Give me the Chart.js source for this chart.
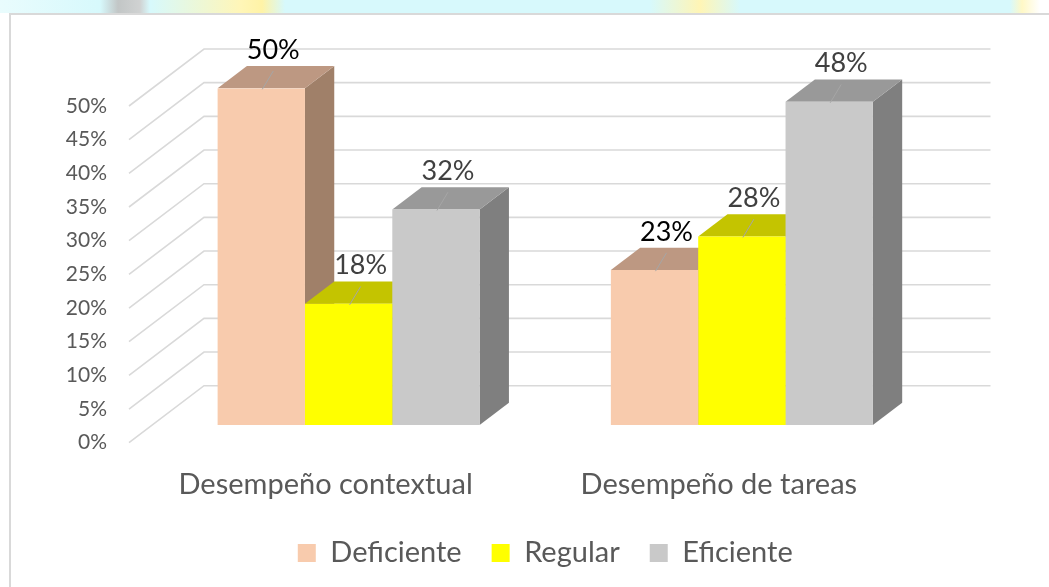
<!DOCTYPE html>
<html>
<head>
<meta charset="utf-8">
<script src="https://cdn.jsdelivr.net/npm/chart.js@4.4.1/dist/chart.umd.min.js"></script>
<style>
  html, body { margin: 0; padding: 0; background: #ffffff; }
  #strip {
    position: absolute; left: 0; top: 0; width: 1049px; height: 13px;
    background: linear-gradient(90deg, #e9fcfd 0px, #d7f9fc 100px, #c2c6c6 118px, #d0d2d2 140px,
      #d7f9fc 150px, #fff6b8 240px, #fff3a6 262px, #d7f9fc 285px, #d7f9fc 650px, #fff5b5 700px,
      #d7f9fc 740px, #d7f9fc 1010px, #fff8c6 1022px, #ffffff 1040px);
  }
  #frame {
    position: absolute; left: 9px; top: 13px; width: 1040px; height: 574px;
    border-left: 2px solid #d9d9d9; border-top: 2px solid #d9d9d9; box-sizing: border-box;
  }
  #chart { position: absolute; left: 0; top: 0; }
</style>
</head>
<body>
<div id="strip"></div>
<div id="frame"></div>
<canvas id="chart" width="1049" height="587"></canvas>
<script>
const categories = ['Desempeño contextual', 'Desempeño de tareas'];
const seriesNames = ['Deficiente', 'Regular', 'Eficiente'];
const deficiente = [50, 23];
const regular = [18, 28];
const eficiente = [32, 48];
const yMax = 50;
const yStep = 5;

// offsets of the fake 3d box (front of bars is the chart area)
const DEPTH = { dx: 29.3, dy: -22.3 };
const WALL = { dx: 52, dy: -39.3 };
const FRONT = { dx: -23, dy: 17.7 };
const FONT = 'Lato';

function poly(ctx, pts) {
  ctx.beginPath();
  ctx.moveTo(pts[0][0], pts[0][1]);
  for (let i = 1; i < pts.length; i++) ctx.lineTo(pts[i][0], pts[i][1]);
  ctx.closePath();
  ctx.fill();
}

const box3d = {
  id: 'box3d',
  beforeDatasetsDraw(chart) {
    const ctx = chart.ctx;
    const y = chart.scales.y;
    const area = chart.chartArea;
    ctx.save();

    // walls: side wall diagonals + back wall lines
    ctx.strokeStyle = '#d9d9d9';
    ctx.lineWidth = 1.6;
    y.ticks.forEach(function (t) {
      const py = y.getPixelForValue(t.value);
      ctx.beginPath();
      ctx.moveTo(area.left + FRONT.dx, py + FRONT.dy);
      ctx.lineTo(area.left + WALL.dx, py + WALL.dy);
      ctx.lineTo(area.right + WALL.dx, py + WALL.dy);
      ctx.stroke();
    });

    // side and top faces, left to right so the next front covers them
    const bars = [];
    chart.data.datasets.forEach(function (ds, i) {
      chart.getDatasetMeta(i).data.forEach(function (el) {
        bars.push({ el: el, ds: ds });
      });
    });
    bars.sort(function (a, b) { return a.el.x - b.el.x; });
    bars.forEach(function (bar) {
      const el = bar.el;
      const l = el.x - el.width / 2, r = el.x + el.width / 2;
      const t = el.y, b = el.base;
      ctx.fillStyle = bar.ds.sideColor;
      poly(ctx, [[r, t], [r + DEPTH.dx, t + DEPTH.dy], [r + DEPTH.dx, b + DEPTH.dy], [r, b]]);
      ctx.fillStyle = bar.ds.topColor;
      poly(ctx, [[l, t], [l + DEPTH.dx, t + DEPTH.dy], [r + DEPTH.dx, t + DEPTH.dy], [r, t]]);
    });
    ctx.restore();
  },
  afterDatasetsDraw(chart) {
    const ctx = chart.ctx;
    ctx.save();
    ctx.font = '27px ' + FONT;
    ctx.textAlign = 'center';
    ctx.textBaseline = 'middle';
    chart.data.datasets.forEach(function (ds, i) {
      chart.getDatasetMeta(i).data.forEach(function (el, j) {
        const backTop = el.y + DEPTH.dy;
        const cx = el.x + 12;
        // little leader line across the top face
        ctx.strokeStyle = '#a6a6a6';
        ctx.lineWidth = 1;
        ctx.beginPath();
        ctx.moveTo(cx, backTop + 5);
        ctx.lineTo(el.x + 1, el.y + 1);
        ctx.stroke();
        ctx.fillStyle = ds.labelColor;
        ctx.fillText(ds.data[j] + '%', cx, backTop - 16);
      });
    });
    ctx.restore();
  }
};

const ctx = document.getElementById('chart').getContext('2d');
new Chart(ctx, {
  type: 'bar',
  data: {
    labels: categories,
    datasets: [
      { label: seriesNames[0], data: deficiente, backgroundColor: '#f8cbad',
        topColor: '#bd9882', sideColor: '#a08069', labelColor: '#000000' },
      { label: seriesNames[1], data: regular, backgroundColor: '#ffff00',
        topColor: '#c4c400', sideColor: '#a6a600', labelColor: '#404040' },
      { label: seriesNames[2], data: eficiente, backgroundColor: '#c9c9c9',
        topColor: '#999999', sideColor: '#7f7f7f', labelColor: '#404040' }
    ]
  },
  options: {
    responsive: false,
    animation: false,
    layout: { padding: { top: 88.3, right: 110.5, bottom: 9.5, left: 0 } },
    datasets: {
      bar: { categoryPercentage: 0.6663, barPercentage: 1.0, borderWidth: 0 }
    },
    scales: {
      x: {
        grid: { display: false, drawTicks: false },
        border: { display: false },
        ticks: {
          color: '#595959',
          font: { family: FONT, size: 29 },
          padding: 42.6,
          labelOffset: -23,
          maxRotation: 0
        },
        afterFit: function (scale) { scale.height = 83.5; }
      },
      y: {
        min: 0,
        max: yMax,
        grid: { display: false, drawTicks: false },
        border: { display: false },
        ticks: {
          stepSize: yStep,
          color: '#595959',
          font: { family: FONT, size: 21 },
          padding: 45,
          labelOffset: 17.7,
          callback: function (v) { return v + '%'; }
        },
        afterFit: function (scale) { scale.width = 152; }
      }
    },
    plugins: {
      tooltip: { enabled: false },
      legend: {
        position: 'bottom',
        fullSize: false,
        labels: {
          color: '#595959',
          font: { family: FONT, size: 29 },
          boxWidth: 18,
          boxHeight: 18,
          padding: 30
        }
      }
    }
  },
  plugins: [box3d]
});
</script>
</body>
</html>
